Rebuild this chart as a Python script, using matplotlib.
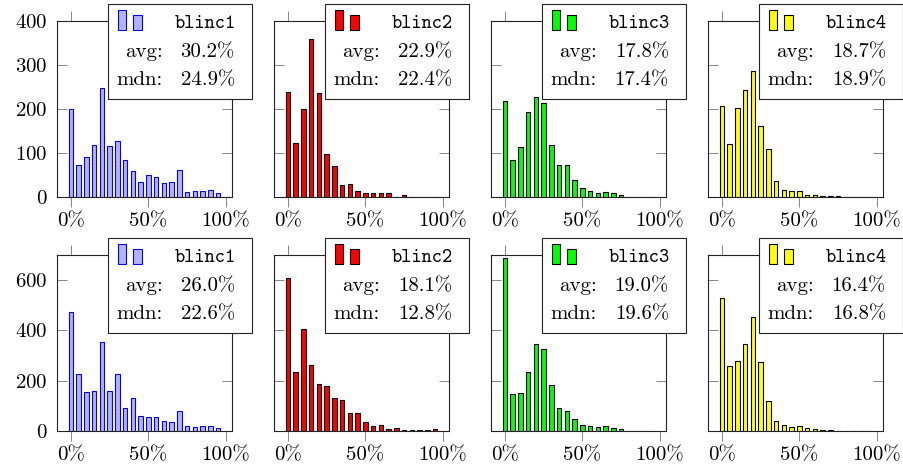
import numpy as np
import matplotlib
matplotlib.use("Agg")
import matplotlib.pyplot as plt
from matplotlib.patches import Rectangle
from matplotlib.ticker import FuncFormatter

plt.rcParams['font.family'] = ['cmr10', 'DejaVu Serif']
plt.rcParams['axes.formatter.use_mathtext'] = True

# bin positions (percent)
bins = list(range(0, 100, 5))

names = ['blinc1', 'blinc2', 'blinc3', 'blinc4']

# top row
top_blinc1 = [200, 72, 92, 119, 248, 116, 128, 83, 60, 33, 49, 45, 31, 33, 61, 11, 13, 14, 17, 10]
top_blinc2 = [239, 123, 201, 358, 236, 97, 70, 27, 29, 14, 8, 9, 8, 10, 1, 5, 1, 1, 1, 1]
top_blinc3 = [218, 85, 114, 193, 227, 214, 118, 73, 73, 39, 20, 14, 9, 12, 8, 5, 1, 1, 1, 1]
top_blinc4 = [206, 121, 202, 244, 287, 161, 109, 36, 17, 13, 14, 5, 5, 2, 2, 2, 1, 1, 1, 1]
top_avg = ['30.2%', '22.9%', '17.8%', '18.7%']
top_mdn = ['24.9%', '22.4%', '17.4%', '18.9%']

# bottom row
bot_blinc1 = [472, 227, 155, 159, 352, 161, 225, 93, 132, 58, 54, 54, 40, 37, 78, 21, 15, 19, 20, 11]
bot_blinc2 = [609, 234, 405, 263, 186, 177, 132, 122, 72, 72, 35, 21, 23, 9, 13, 3, 3, 3, 5, 7]
bot_blinc3 = [687, 146, 151, 234, 346, 328, 183, 90, 81, 48, 23, 19, 15, 19, 11, 7, 1, 1, 1, 1]
bot_blinc4 = [529, 258, 278, 346, 452, 275, 120, 41, 23, 17, 20, 11, 7, 3, 2, 1, 1, 1, 1, 1]
bot_avg = ['26.0%', '18.1%', '19.0%', '16.4%']
bot_mdn = ['22.6%', '12.8%', '19.6%', '16.8%']

rows = [
    ([top_blinc1, top_blinc2, top_blinc3, top_blinc4], top_avg, top_mdn, 400, [0, 100, 200, 300, 400]),
    ([bot_blinc1, bot_blinc2, bot_blinc3, bot_blinc4], bot_avg, bot_mdn, 700, [0, 200, 400, 600]),
]

fills = ['#b3b3ff', '#ff0000', '#00ff00', '#ffff00']
edges = ['#0000ff', '#000000', '#000000', '#000000']

W, H = 904, 466
fig = plt.figure(figsize=(W / 100, H / 100), dpi=100)

col_left = [57, 274, 491, 708]
axw = 175
row_top = [21, 255]
axh = 176

for r, (series, avgs, mdns, ymax, yt) in enumerate(rows):
    for c in range(4):
        ax = fig.add_axes([col_left[c] / W, 1 - (row_top[r] + axh) / H, axw / W, axh / H])
        ax.bar(bins, series[c], width=2.9, color=fills[c], edgecolor=edges[c], linewidth=0.8, zorder=3)
        ax.set_xlim(-9, 104)
        ax.set_ylim(0, ymax)
        ax.set_xticks([0, 50, 100])
        ax.xaxis.set_major_formatter(FuncFormatter(lambda v, p: '%d%%' % v))
        ax.set_yticks(yt)
        ax.tick_params(axis='x', direction='out', top=True, bottom=True, length=7,
                       color='#888888', width=0.7, labelsize=15, pad=4)
        ax.tick_params(axis='y', direction='in', left=True, right=True, length=7,
                       color='#888888', width=0.7, labelsize=15, pad=7)
        if c > 0:
            ax.set_yticklabels([])
        for s in ax.spines.values():
            s.set_linewidth(0.8)
            s.set_color('#222222')

        # legend box (pgfplots style)
        tr = ax.transAxes
        ax.add_patch(Rectangle((0.291, 0.557), 0.823, 0.54, transform=tr, facecolor='white',
                               edgecolor='#222222', linewidth=0.8, clip_on=False, zorder=5))
        ax.add_patch(Rectangle((0.349, 0.949), 0.045, 0.113, transform=tr, facecolor=fills[c],
                               edgecolor=edges[c], linewidth=0.8, clip_on=False, zorder=6))
        ax.add_patch(Rectangle((0.434, 0.949), 0.052, 0.085, transform=tr, facecolor=fills[c],
                               edgecolor=edges[c], linewidth=0.8, clip_on=False, zorder=6))
        ax.text(1.023, 0.983, names[c], transform=tr, ha='right', va='center',
                family='cmtt10', fontsize=14, zorder=7)
        ax.text(0.606, 0.824, 'avg:', transform=tr, ha='right', va='center', fontsize=15, zorder=7)
        ax.text(1.017, 0.824, avgs[c], transform=tr, ha='right', va='center', fontsize=15, zorder=7)
        ax.text(0.606, 0.665, 'mdn:', transform=tr, ha='right', va='center', fontsize=15, zorder=7)
        ax.text(1.017, 0.665, mdns[c], transform=tr, ha='right', va='center', fontsize=15, zorder=7)

fig.savefig('out.png', dpi=100)
